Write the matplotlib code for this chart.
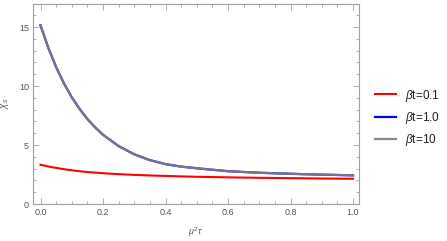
import matplotlib
matplotlib.use("Agg")
import matplotlib.pyplot as plt
from matplotlib.ticker import MultipleLocator, FormatStrFormatter

plt.rcParams['font.family'] = ['Liberation Sans', 'DejaVu Sans']
plt.rcParams['mathtext.fontset'] = 'custom'
plt.rcParams['mathtext.rm'] = 'Liberation Sans'
plt.rcParams['mathtext.it'] = 'Liberation Sans:italic'

# data
x_vals = [0.0, 0.025, 0.05, 0.075, 0.1, 0.125, 0.15, 0.175, 0.2, 0.25, 0.3, 0.35, 0.4,
          0.45, 0.5, 0.6, 0.7, 0.8, 0.9, 1.0]
chi_b01 = [3.33, 3.18, 3.06, 2.95, 2.86, 2.78, 2.71, 2.66, 2.61, 2.53, 2.47, 2.42, 2.38,
           2.34, 2.31, 2.26, 2.22, 2.19, 2.16, 2.14]
chi_b1 = [15.15, 13.24, 11.61, 10.23, 9.05, 8.06, 7.21, 6.49, 5.87, 4.91, 4.21, 3.72, 3.38,
          3.17, 3.03, 2.78, 2.65, 2.56, 2.49, 2.43]
chi_b10 = [15.15, 13.24, 11.61, 10.23, 9.05, 8.06, 7.21, 6.49, 5.87, 4.91, 4.21, 3.72, 3.38,
           3.17, 3.03, 2.78, 2.65, 2.56, 2.49, 2.43]
labels = [r'$\beta$t=0.1', r'$\beta$t=1.0', r'$\beta$t=10']

fig = plt.figure(figsize=(4.47, 2.41), dpi=100)
ax = fig.add_axes([33/447, 1-204/241, (359-33)/447, (204-3.5)/241])

ax.plot(x_vals, chi_b01, color=(1, 0, 0), lw=1.5, label=labels[0])
ax.plot(x_vals, chi_b1, color=(0, 0, 1), lw=1.6, label=labels[1])
ax.plot(x_vals, chi_b10, color=(0.5, 0.5, 0.5), lw=1.6, alpha=0.92, label=labels[2])

ax.set_xlim(-0.024, 1.019)
ax.set_ylim(0, 17.0)

ax.xaxis.set_major_locator(MultipleLocator(0.2))
ax.xaxis.set_minor_locator(MultipleLocator(0.05))
ax.yaxis.set_major_locator(MultipleLocator(5))
ax.yaxis.set_minor_locator(MultipleLocator(1))
ax.xaxis.set_major_formatter(FormatStrFormatter('%.1f'))

for s in ax.spines.values():
    s.set_color('#a0a0a0')
    s.set_linewidth(0.8)
ax.tick_params(which='both', direction='in', top=True, right=True, color='#a0a0a0',
               labelsize=6.5, labelcolor='#555555', width=0.6)
ax.tick_params(which='major', length=4, pad=3)
ax.tick_params(which='minor', length=2)

ax.set_xlabel(r'$\mu^2\tau$', fontsize=6.5, color='#555555', labelpad=6)
ax.set_ylabel(r'$\chi_s$', fontsize=7, color='#555555', labelpad=6)

fig.legend(loc='center left', bbox_to_anchor=(375/447, 1-118/241), frameon=False,
           fontsize=8.5, handlelength=1.8, handletextpad=0.7, labelspacing=0.55,
           borderpad=0, borderaxespad=0, labelcolor='#222222')

fig.savefig('out.png', dpi=100)
